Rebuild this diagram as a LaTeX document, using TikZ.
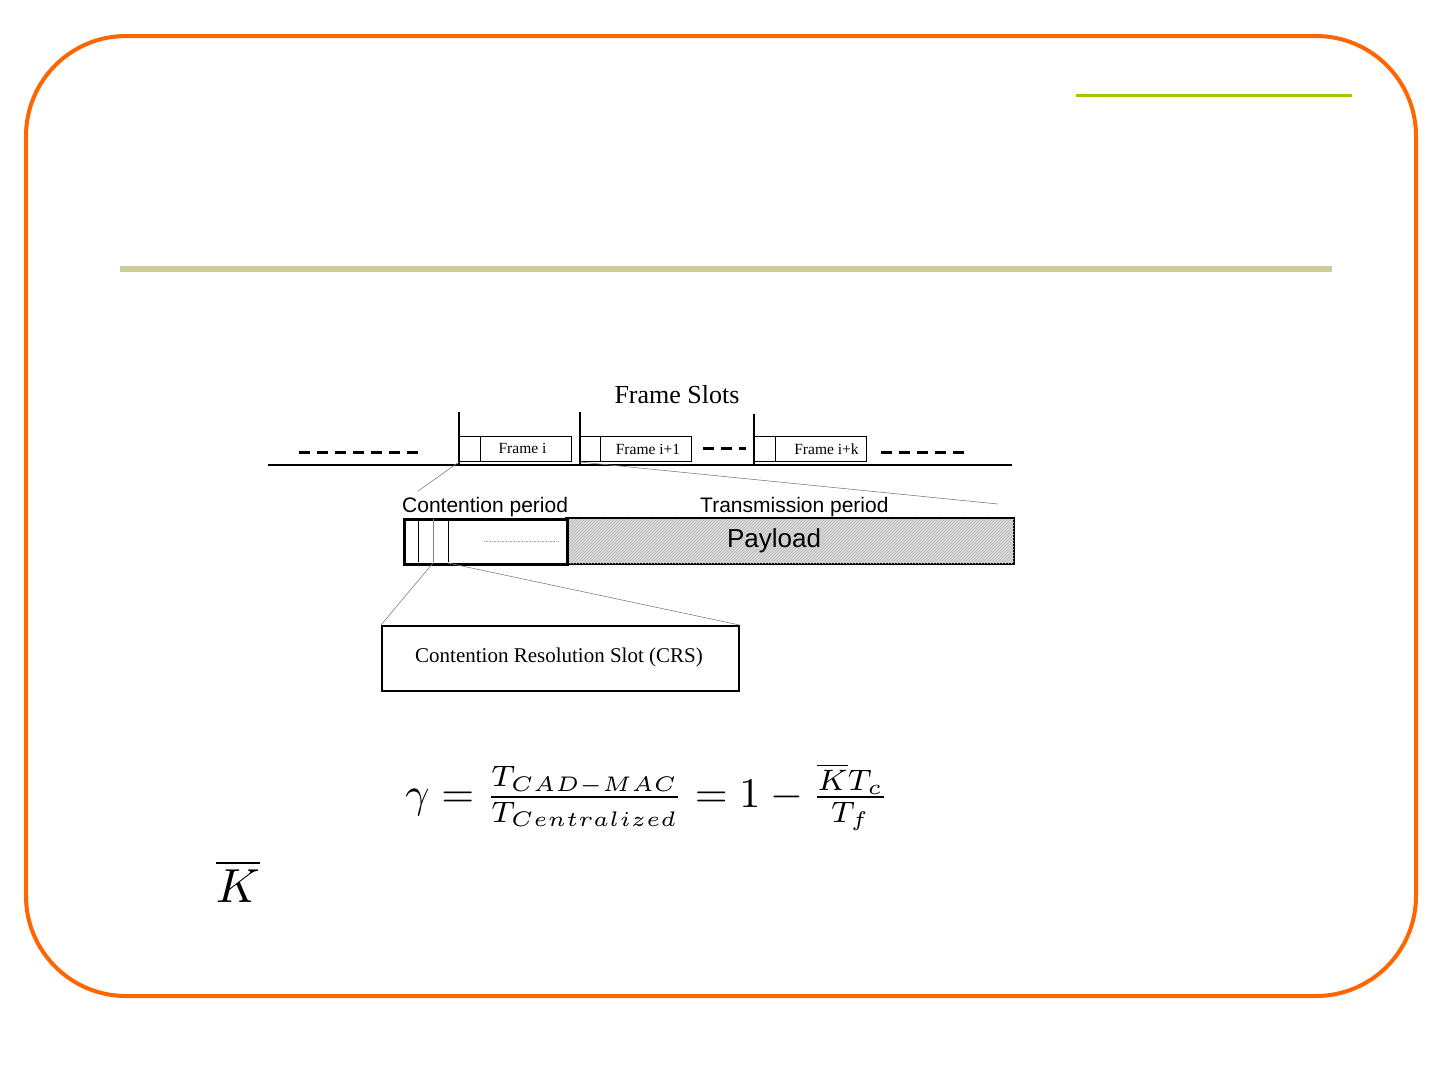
\documentclass[tikz,border=0pt]{standalone}
\usepackage{amsmath}
\usepackage{fontspec}
\setmainfont{Liberation Serif}
\newfontfamily\arialfont{Liberation Sans}
\usetikzlibrary{patterns}
\definecolor{frameorange}{HTML}{FF6600}
\definecolor{topgreen}{HTML}{99CC00}
\definecolor{olivebar}{HTML}{CCCC99}
\definecolor{payloadgray}{HTML}{DADADA}
\tikzset{
  framebox/.style={draw, line width=1pt, minimum width=112pt, minimum height=25pt, anchor=north west, inner sep=0pt},
  divider/.style={line width=1pt},
  slotline/.style={line width=1.5pt},
  zoomline/.style={draw=gray, line width=0.6pt},
  dashline/.style={line width=3pt, dash pattern=on 11pt off 7pt},
  flabel/.style={font=\fontsize{15.5}{17}\selectfont},
  alabel/.style={font=\arialfont\fontsize{21}{23}\selectfont, inner sep=0pt}
}
\begin{document}
\begin{tikzpicture}[x=1pt,y=-1pt]
\useasboundingbox (0,0) rectangle (1440,1080);
% outer frame
\draw[frameorange, line width=4pt, rounded corners=100pt] (26,36) rectangle (1416,996);
\draw[topgreen, line width=3pt] (1076,95) -- (1352,95);
\draw[olivebar, line width=6pt] (120,269) -- (1332,269);

% time axis
\coordinate (axL) at (268,465);
\coordinate (axR) at (1012,465);
\draw[line width=2pt] (axL) -- (axR);
\coordinate (d1a) at (299,452); \coordinate (d1b) at (422,452);
\draw[dashline] (d1a) -- (d1b);
\coordinate (d2a) at (703,448); \coordinate (d2b) at (746,448);
\draw[dashline] (d2a) -- (d2b);
\coordinate (d3a) at (881,452); \coordinate (d3b) at (968,452);
\draw[dashline] (d3a) -- (d3b);

\node[font=\fontsize{26}{28}\selectfont] (fslots) at (677,395) {Frame Slots};

% frame i
\node[framebox] (fi) at (459,436) {};
\draw[divider] ([xshift=21pt]fi.north west) -- ([xshift=21pt]fi.south west);
\node[flabel] (fil) at ([xshift=7pt,yshift=1pt]fi.center) {Frame i};
\coordinate (v1t) at (459,412);
\coordinate (v1b) at (459,466);
\draw[slotline] (v1t) -- (v1b);
% frame i+1
\node[framebox, minimum width=111pt] (fi1) at (580,436) {};
\draw[divider] ([xshift=20pt]fi1.north west) -- ([xshift=20pt]fi1.south west);
\node[flabel] (fi1l) at ([xshift=12pt]fi1.center) {Frame i+1};
\coordinate (v2t) at (580,412);
\coordinate (v2b) at (580,466);
\draw[slotline] (v2t) -- (v2b);
% frame i+k
\node[framebox] (fik) at (754,436) {};
\draw[divider] ([xshift=21pt]fik.north west) -- ([xshift=21pt]fik.south west);
\node[flabel] (fikl) at ([xshift=16pt]fik.center) {Frame i+k};
\coordinate (v3t) at (754,414);
\coordinate (v3b) at (754,466);
\draw[slotline] (v3t) -- (v3b);

% zoom lines to period bar
\coordinate (zl1) at (418,491);
\coordinate (zl2) at (998,504);
\draw[zoomline] (fi.south west) -- (zl1);
\draw[zoomline] (fi1.south west) -- (zl2);

% labels
\node[alabel, anchor=base west] (cpl) at (402,512) {Contention period};
\node[alabel, anchor=base west] (tpl) at (700,512) {Transmission period};

% payload
\node[draw, line width=1.2pt, fill=payloadgray, minimum width=447pt, minimum height=45pt, anchor=north west, inner sep=0pt] (pay) at (566,518) {};
\fill[pattern=north east lines, pattern color=gray!55] (pay.south west) rectangle (pay.north east);
\draw[line width=1.2pt] (pay.south west) rectangle (pay.north east);
\node[font=\arialfont\fontsize{26}{28}\selectfont] (payl) at (774,541) {Payload};

% contention box
\node[draw, line width=2.5pt, fill=white, minimum width=163pt, minimum height=45pt, anchor=north west, inner sep=0pt] (cont) at (403,518) {};
\draw[line width=0.8pt] (418,519) -- (418,562);
\draw[line width=0.8pt, gray] (433,519) -- (433,562);
\draw[line width=0.8pt] (448,519) -- (448,562);
\draw[gray!70, line width=0.6pt, densely dotted] (484,541) -- (558,541);
\coordinate (cz1) at (433,563);
\coordinate (cz2) at (448,563);

% CRS box
\node[draw, line width=1.5pt, minimum width=357pt, minimum height=65pt, anchor=north west, inner sep=0pt] (crs) at (381,625) {};
\node[font=\fontsize{21}{23}\selectfont] (crsl) at (559,657) {Contention Resolution Slot (CRS)};
\draw[zoomline] (cz1) -- (crs.north west);
\draw[zoomline] (cz2) -- (crs.north east);

% formula
\node[inner sep=0pt] (form) at (647,797) {\resizebox{483pt}{!}{$\gamma = \frac{T_{CAD-MAC}}{T_{Centralized}} = 1 - \frac{\overline{K}T_c}{T_f}$}};
\node[inner sep=0pt] (kbar) at (238,881) {\resizebox{44pt}{!}{$\overline{K}$}};
\end{tikzpicture}
\end{document}
